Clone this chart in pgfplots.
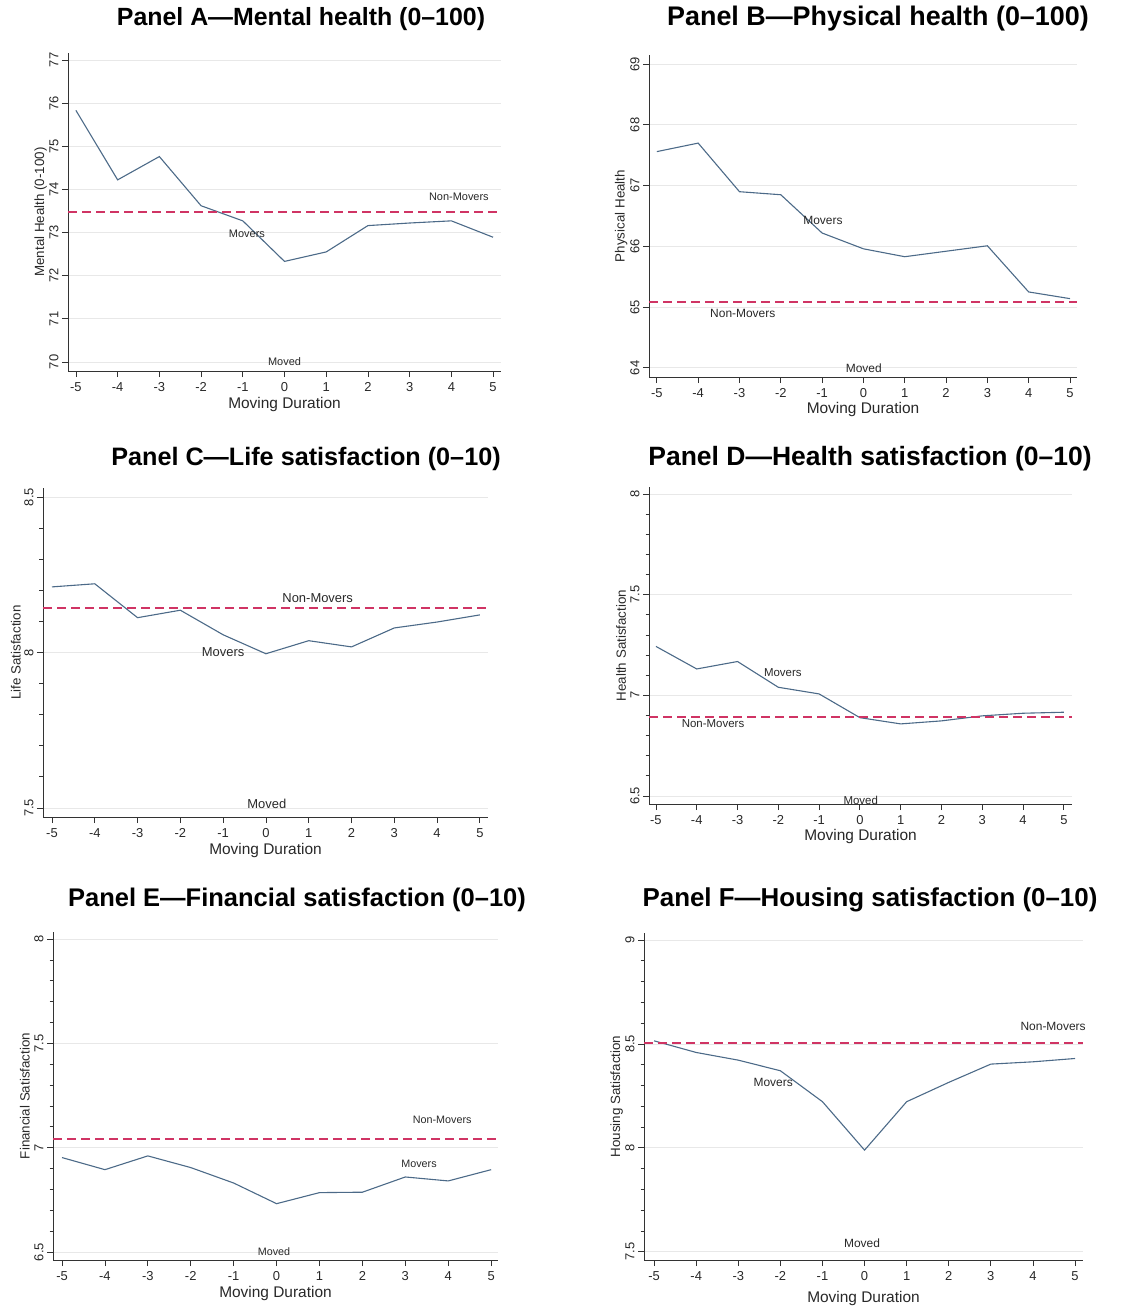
\documentclass[border=0pt]{standalone}
\usepackage{pgfplots}
\pgfplotsset{compat=1.18}
\usepackage{fontspec}
\setmainfont{Liberation Sans}
\definecolor{moverblue}{RGB}{76,106,136}
\definecolor{nmred}{RGB}{208,52,100}
\definecolor{txt}{RGB}{40,40,40}
\tikzset{
 movers/.style={line width=1.1bp, color=moverblue},
 nonmovers/.style={line width=1.8bp, color=nmred, dash pattern=on 9bp off 5bp},
 ann/.style={color=txt, inner sep=0pt},
}
\pgfplotsset{
 panel/.style={
  scale only axis,
  axis x line*=bottom, axis y line*=left,
  axis line style={line width=1bp, color=black!80},
  tick align=outside,
  major tick length=6bp, minor tick length=3.5bp,
  every tick/.style={line width=0.8bp, color=black!80},
  xtick={-5,...,5},
  ymajorgrids, major grid style={line width=0.8bp, color=black!9},
  tick label style={font=\fontsize{13}{13}\selectfont, color=txt},
  xticklabel style={yshift=-2bp},
  yticklabel style={rotate=90, anchor=south},
  xlabel={Moving Duration},
  xlabel style={font=\fontsize{15.5}{15.5}\selectfont, color=txt, anchor=center},
  ylabel style={font=\fontsize{13.4}{13.4}\selectfont, color=txt, anchor=center},
  /pgf/number format/assume math mode=true,
  clip=false,
 },
}
\begin{document}
\begin{tikzpicture}
\path[use as bounding box] (0,0) rectangle (1137bp,-1310bp);
\tikzset{ttl/.style={font=\bfseries, inner sep=0pt}}
\node[ttl, font=\fontsize{25}{28}\selectfont\bfseries] at (301bp,-19bp) {Panel A—Mental health (0–100)};
\node[ttl, font=\fontsize{27}{30}\selectfont\bfseries] at (878bp,-19bp) {Panel B—Physical health (0–100)};
\node[ttl, font=\fontsize{25.3}{28}\selectfont\bfseries] at (306bp,-459bp) {Panel C—Life satisfaction (0–10)};
\node[ttl, font=\fontsize{26.6}{30}\selectfont\bfseries] at (870bp,-459bp) {Panel D—Health satisfaction (0–10)};
\node[ttl, font=\fontsize{25.6}{28}\selectfont\bfseries] at (297bp,-900bp) {Panel E—Financial satisfaction (0–10)};
\node[ttl, font=\fontsize{26}{29}\selectfont\bfseries] at (870bp,-900bp) {Panel F—Housing satisfaction (0–10)};

% Panel A
\begin{axis}[panel, at={(68bp,-371bp)}, anchor=south west,
  width=433bp, height=318bp,
  xmin=-5.19, xmax=5.19, ymin=69.79, ymax=77.16,
  ytick={70,71,...,77},
  ylabel={Mental Health (0-100)},
  xlabel style={at={(axis description cs:0.5,-0.104)}},
  ylabel style={at={(axis description cs:-0.063,0.5)}}]
\addplot[movers] coordinates {(-5,75.83)(-4,74.22)(-3,74.76)(-2,73.62)(-1,73.27)(0,72.33)(1,72.55)(2,73.16)(3,73.22)(4,73.27)(5,72.89)};
\addplot[nonmovers, line width=2.1bp] coordinates {(-5.19,73.47)(5.19,73.47)};
\node[ann, font=\fontsize{11}{11}\selectfont] at (axis cs:4.18,73.82) {Non-Movers};
\node[ann, font=\fontsize{11}{11}\selectfont] at (axis cs:-0.90,72.97) {Movers};
\node[ann, font=\fontsize{11}{11}\selectfont] at (axis cs:0,70.0) {Moved};
\end{axis}

% Panel B
\begin{axis}[panel, at={(649bp,-377bp)}, anchor=south west,
  width=428bp, height=322bp,
  xmin=-5.19, xmax=5.17, ymin=63.85, ymax=69.15,
  ytick={64,65,...,69},
  ylabel={Physical Health},
  xlabel style={at={(axis description cs:0.5,-0.101)}},
  ylabel style={at={(axis description cs:-0.065,0.5)}}]
\addplot[movers] coordinates {(-5,67.56)(-4,67.70)(-3,66.90)(-2,66.85)(-1,66.22)(0,65.96)(1,65.83)(2,65.92)(3,66.01)(4,65.25)(5,65.14)};
\addplot[nonmovers] coordinates {(-5.19,65.09)(5.17,65.09)};
\node[ann, font=\fontsize{12}{12}\selectfont] at (axis cs:-0.98,66.43) {Movers};
\node[ann, font=\fontsize{12}{12}\selectfont] at (axis cs:-2.92,64.90) {Non-Movers};
\node[ann, font=\fontsize{12}{12}\selectfont] at (axis cs:0.01,64.0) {Moved};
\end{axis}

% Panel C
\begin{axis}[panel, at={(43bp,-817bp)}, anchor=south west,
  width=445bp, height=329bp,
  xmin=-5.21, xmax=5.19, ymin=7.471, ymax=8.529,
  ytick={7.5,8,8.5}, minor y tick num=4,
  ylabel={Life Satisfaction},
  xlabel style={at={(axis description cs:0.5,-0.101)}},
  ylabel style={at={(axis description cs:-0.061,0.5)}}]
\addplot[movers] coordinates {(-5,8.211)(-4,8.221)(-3,8.112)(-2,8.136)(-1,8.057)(0,7.996)(1,8.038)(2,8.018)(3,8.079)(4,8.098)(5,8.121)};
\addplot[nonmovers] coordinates {(-5.21,8.142)(5.19,8.142)};
\node[ann, font=\fontsize{13}{13}\selectfont] at (axis cs:1.21,8.175) {Non-Movers};
\node[ann, font=\fontsize{13}{13}\selectfont] at (axis cs:-1.0,8.0) {Movers};
\node[ann, font=\fontsize{13}{13}\selectfont] at (axis cs:0.02,7.513) {Moved};
\end{axis}

% Panel D
\begin{axis}[panel, at={(649bp,-804bp)}, anchor=south west,
  width=423bp, height=317bp,
  xmin=-5.17, xmax=5.2, ymin=6.46, ymax=8.035,
  ytick={6.5,7,7.5,8}, minor y tick num=4,
  ylabel={Health Satisfaction},
  xlabel style={at={(axis description cs:0.5,-0.102)}},
  ylabel style={at={(axis description cs:-0.066,0.5)}}]
\addplot[movers] coordinates {(-5,7.243)(-4,7.131)(-3,7.168)(-2,7.040)(-1,7.007)(0,6.889)(1,6.858)(2,6.873)(3,6.898)(4,6.911)(5,6.916)};
\addplot[nonmovers] coordinates {(-5.17,6.894)(5.2,6.894)};
\node[ann, font=\fontsize{11.5}{11.5}\selectfont] at (axis cs:-1.89,7.111) {Movers};
\node[ann, font=\fontsize{11.5}{11.5}\selectfont] at (axis cs:-3.6,6.857) {Non-Movers};
\node[ann, font=\fontsize{11.5}{11.5}\selectfont] at (axis cs:0.02,6.48) {Moved};
\end{axis}

% Panel E
\begin{axis}[panel, at={(53bp,-1260bp)}, anchor=south west,
  width=445bp, height=328bp,
  xmin=-5.21, xmax=5.16, ymin=6.462, ymax=8.034,
  ytick={6.5,7,7.5,8}, minor y tick num=4,
  ylabel={Financial Satisfaction},
  xlabel style={at={(axis description cs:0.5,-0.101)}},
  ylabel style={at={(axis description cs:-0.063,0.5)}}]
\addplot[movers] coordinates {(-5,6.953)(-4,6.895)(-3,6.961)(-2,6.905)(-1,6.831)(0,6.732)(1,6.785)(2,6.787)(3,6.860)(4,6.841)(5,6.895)};
\addplot[nonmovers, line width=2.1bp] coordinates {(-5.21,7.040)(5.16,7.040)};
\node[ann, font=\fontsize{10.8}{10.8}\selectfont] at (axis cs:3.86,7.133) {Non-Movers};
\node[ann, font=\fontsize{10.8}{10.8}\selectfont] at (axis cs:3.32,6.922) {Movers};
\node[ann, font=\fontsize{10.8}{10.8}\selectfont] at (axis cs:-0.06,6.5) {Moved};
\end{axis}

% Panel F
\begin{axis}[panel, at={(644bp,-1260bp)}, anchor=south west,
  width=439bp, height=327bp,
  xmin=-5.24, xmax=5.19, ymin=7.46, ymax=9.034,
  ytick={7.5,8,8.5,9}, minor y tick num=4,
  ylabel={Housing Satisfaction},
  xlabel style={at={(axis description cs:0.5,-0.119)}},
  ylabel style={at={(axis description cs:-0.062,0.5)}}]
\addplot[movers] coordinates {(-5,8.515)(-4,8.459)(-3,8.422)(-2,8.371)(-1,8.222)(0,7.989)(1,8.222)(2,8.315)(3,8.403)(4,8.414)(5,8.430)};
\addplot[nonmovers] coordinates {(-5.24,8.506)(5.19,8.506)};
\node[ann, font=\fontsize{12}{12}\selectfont] at (axis cs:4.48,8.582) {Non-Movers};
\node[ann, font=\fontsize{12}{12}\selectfont] at (axis cs:-2.17,8.317) {Movers};
\node[ann, font=\fontsize{12}{12}\selectfont] at (axis cs:-0.06,7.543) {Moved};
\end{axis}
\end{tikzpicture}
\end{document}
